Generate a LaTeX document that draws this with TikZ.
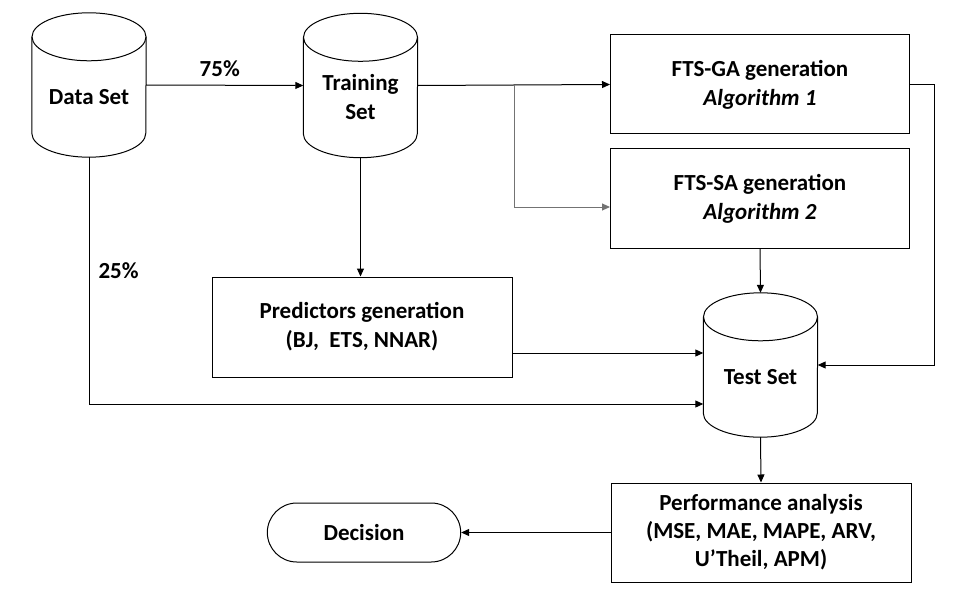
\documentclass[tikz,border=0pt]{standalone}
\usepackage{fontspec}
\setmainfont{Carlito}
\usepackage{tikz}
\usetikzlibrary{arrows.meta}
\usetikzlibrary{shapes,positioning}

\tikzset{
  dbase/.style={rectangle, minimum width=114pt, minimum height=144pt, inner sep=0pt, align=center,
                text height=39pt, text depth=0pt,
                append after command={\pgfextra{\let\cylnode=\tikzlastnode
                  \draw[line width=1pt] ([yshift=-24pt]\cylnode.north) ellipse [x radius=57pt, y radius=24pt];
                  \draw[line width=1pt] ([yshift=-24pt]\cylnode.north west) -- ([yshift=24pt]\cylnode.south west)
                        arc[start angle=180, end angle=360, x radius=57pt, y radius=24pt]
                        -- ([yshift=-24pt]\cylnode.north east);}}},
  stagebox/.style={draw, line width=1pt, minimum width=299pt, minimum height=99pt, align=center},
  arr/.style={line width=1pt, -{Stealth[length=8pt, width=7pt, inset=0pt]}},
  pct/.style={inner sep=1pt}
}

\begin{document}
\begin{tikzpicture}[x=1pt, y=-1pt, font=\fontsize{23}{29}\selectfont\bfseries]
        \useasboundingbox (0,0) rectangle (969,599);

        % Data sets
        \node[dbase] at (89, 85)   (data_set)  {Data Set};
        \node[dbase, text height=68pt] at (360.5, 85.5) (train_set) {Training\\Set};
        \node[dbase] at (760.5, 365) (test_set)  {Test Set};

        % Generation stages
        \node[stagebox] at (760, 84.5)  (fts_ga) {FTS-GA generation\\\textit{Algorithm 1}};
        \node[stagebox] at (760, 198.5) (fts_sa) {FTS-SA generation\\\textit{Algorithm 2}};
        \node[stagebox, minimum width=300pt, minimum height=100pt] at (362, 327) (predictors)
                {Predictors generation\\(BJ,~~ETS, NNAR)};

        % Analysis and decision
        \node[stagebox, minimum width=300pt, font=\fontsize{23}{28}\selectfont\bfseries] at (761, 532.5) (perf)
                {Performance analysis\\(MSE, MAE, MAPE, ARV,\\U’Theil, APM)};
        \node[rounded rectangle, draw, line width=1pt, minimum width=200pt, minimum height=59pt] at (364, 532.5) (decision) {Decision};

        % 75% split to training
        \draw [arr] (data_set.east) -- (train_set.west)
                node[pct, above=7pt, midway, xshift=-5pt] {75\%};

        % Training to both algorithms
        \coordinate (fork) at (514, 85);
        \draw [arr] (train_set.east) -- (fts_ga.west);
        \draw [arr, black!55] (fork) |- ([yshift=-8.5pt]fts_sa.west);

        % Training to predictors
        \draw [arr] (train_set.south) -- (train_set.south |- predictors.north);

        % 25% split to test
        \draw [arr] (data_set.south) |- ([yshift=-39pt]test_set.west)
                node[pct, right=8pt, pos=0.23] {25\%};

        % Everything into the test set
        \draw [arr] ([yshift=-26pt]predictors.east) -- ([yshift=-26pt]predictors.east -| test_set.west);
        \draw [arr] (fts_sa.south) -- (test_set.north);
        \draw [arr] (fts_ga.east) -- ++(24.5,0) |- (test_set.east);

        % Test set to analysis and decision
        \draw [arr] (test_set.south) -- (perf.north);
        \draw [arr] (perf.west) -- (decision.east);
\end{tikzpicture}
\end{document}
